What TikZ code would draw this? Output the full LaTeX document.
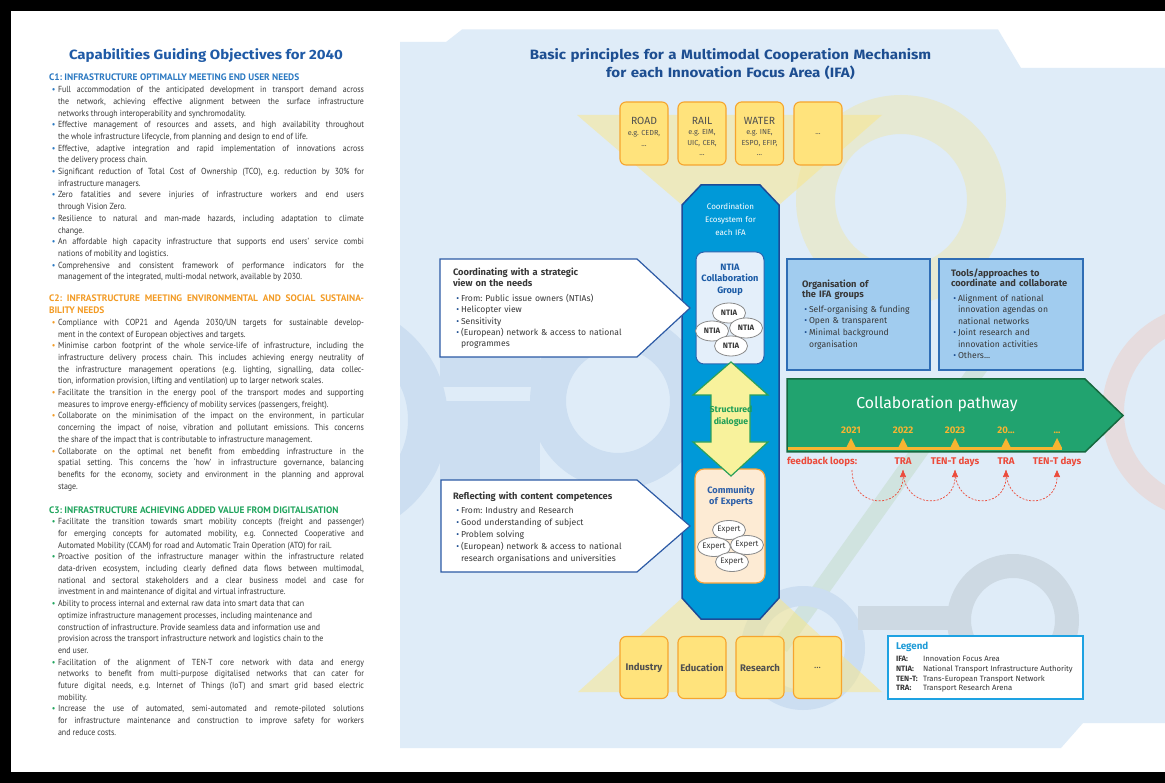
\documentclass[tikz,border=0pt]{standalone}
\usepackage{fontspec}
\setmainfont{Fira Sans}
\newfontfamily\lfont[FakeStretch=0.9]{PT Sans}
\newfontfamily\lheadfont{PT Sans}
\newfontfamily\wfont[FakeStretch=1.12]{Fira Sans}
\usepackage{graphicx}
\usetikzlibrary{shapes.geometric,arrows.meta}
\definecolor{panel}{HTML}{DFECF8}
\definecolor{titleblue}{HTML}{1D4E91}
\definecolor{ltitle}{HTML}{1F5AA6}
\definecolor{cone}{HTML}{2B79C2}
\definecolor{ctwo}{HTML}{F39B24}
\definecolor{cthree}{HTML}{1FA45C}
\definecolor{bodytxt}{HTML}{383838}
\definecolor{boxtxt}{HTML}{505050}
\definecolor{boxfill}{HTML}{FFE37C}
\definecolor{boxdraw}{HTML}{F6A52E}
\definecolor{colblue}{HTML}{0099D8}
\definecolor{colborder}{HTML}{1D4B97}
\definecolor{ntiafill}{HTML}{E4EFFA}
\definecolor{ntiadraw}{HTML}{2A64AE}
\definecolor{ntiatxt}{HTML}{1A5AA5}
\definecolor{ellborder}{HTML}{8A8A8A}
\definecolor{dlgfill}{HTML}{F8F29C}
\definecolor{dlgmid}{HTML}{FFFCDA}
\definecolor{dlgdraw}{HTML}{2BA05A}
\definecolor{dlgtxt}{HTML}{1E9E57}
\definecolor{commfill}{HTML}{FDEBD4}
\definecolor{commdraw}{HTML}{F6A23A}
\definecolor{commtxt}{HTML}{2D5FA8}
\definecolor{callborder}{HTML}{2C5AA5}
\definecolor{bulblue}{HTML}{1D4E91}
\definecolor{bbfill}{HTML}{A1CCEF}
\definecolor{bbdraw}{HTML}{2F6DB5}
\definecolor{pathfill}{HTML}{21A36F}
\definecolor{pathdraw}{HTML}{16693F}
\definecolor{amber}{HTML}{F8B431}
\definecolor{fbred}{HTML}{EC4B3B}
\definecolor{legborder}{HTML}{1EA2E2}
\definecolor{legtxt}{HTML}{1E9BD7}
\definecolor{conecol}{HTML}{FBE785}
\definecolor{decblue}{HTML}{CCDEF1}
\definecolor{decyellow}{HTML}{E6E9D3}
\definecolor{decpink}{HTML}{E6DCDE}
\definecolor{decgreen}{HTML}{D0E3DF}
\definecolor{decgrey}{HTML}{CDD9E3}
\newcommand\lbul[1]{\par\leftskip=9pt\noindent\llap{\textcolor{#1}{\textbullet}\hspace{2.5pt}}\ignorespaces}
\newcommand\lsechead[2]{{\lheadfont\bfseries\fontsize{9.4}{11.7}\selectfont\color{#1}#2\par}}
\newcommand\rfirst{\noindent\llap{\textcolor{bulblue}{\textbullet}\hspace{1.8pt}}\ignorespaces}
\newcommand\rbul{\par\rfirst}
\frenchspacing
\begin{document}
\begin{tikzpicture}[x=1pt,y=-1pt,
  every node/.style={inner sep=0pt, outer sep=0pt},
  lsec/.style={anchor=base west, text width=315pt, align=justify, font=\lfont\frenchspacing\fontsize{8.8}{11.7}\selectfont, text=bodytxt},
  ybox/.style={draw=boxdraw, fill=boxfill, line width=1.1pt, rounded corners=6pt, minimum width=48pt, minimum height=63pt},
  yhead/.style={anchor=base, font=\fontsize{10.4}{10}\selectfont, text=boxtxt},
  ysub/.style={anchor=base, text width=50pt, align=center, font=\fontsize{7.3}{10.6}\selectfont, text=boxtxt},
  bbox/.style={ybox, minimum height=62pt, font=\fontsize{9.6}{10}\selectfont\bfseries, text=boxtxt},
  ell/.style={ellipse, draw=ellborder, fill=white, line width=0.8pt, minimum width=33pt, minimum height=20pt, font=\bfseries\fontsize{7.8}{8}\selectfont, text=bodytxt},
  xell/.style={ell, minimum width=33pt, minimum height=19pt, font=\fontsize{8}{8}\selectfont},
  ctitle/.style={anchor=base, text width=80pt, align=center},
  call/.style={draw=callborder, fill=white, line width=1.2pt, line join=miter},
  chead/.style={anchor=base west, text width=190pt, align=left, font=\bfseries\fontsize{9.3}{10.6}\selectfont, text=bodytxt},
  cbul/.style={anchor=base west, text width=230pt, align=left, font=\fontsize{8.6}{11.4}\selectfont, text=bodytxt},
  bluebox/.style={draw=bbdraw, fill=bbfill, line width=1.2pt},
  year/.style={anchor=base, font=\bfseries\fontsize{9.6}{10}\selectfont, text=amber},
  fbl/.style={anchor=base, font=\bfseries\fontsize{9.7}{10}\selectfont, text=fbred},
  tri/.style={fill=amber},
  fbarc/.style={draw=fbred, line width=0.7pt, dash pattern=on 2pt off 1.5pt, -{Triangle[length=7pt,width=6pt]}},
  legt/.style={anchor=base west, font=\bfseries\fontsize{7.7}{8}\selectfont, text=bodytxt},
  legd/.style={anchor=base west, font=\fontsize{7.7}{8}\selectfont, text=bodytxt}
]
\useasboundingbox (0,0) rectangle (1165,783);
\fill[white] (0,0) rectangle (1165,783);
% frame
\fill[black] (0,0) rectangle (1165,11);
\fill[black] (0,0) rectangle (11,783);
\fill[black] (0,772) rectangle (1165,783);

% panel
\fill[panel] (400,42) -- (446,42) -- (462,29.5) -- (998,29.5) -- (1021,68) -- (1165,68) -- (1165,723) -- (1083,723) -- (1061,748) -- (400,748) -- cycle;
\begin{scope}
\clip (400,42) -- (446,42) -- (462,29.5) -- (998,29.5) -- (1021,68) -- (1165,68) -- (1165,723) -- (1083,723) -- (1061,748) -- (400,748) -- cycle;
\fill[decyellow, even odd rule] (901,200) circle (105pt) (901,200) circle (66pt);
\fill[decpink, even odd rule] (1210,412) circle (108pt) (1210,412) circle (86pt);
\draw[decgreen, line width=17pt] (780,647) -- (1000,338);
% left blue chain
\fill[decblue, even odd rule] (330,420) circle (118pt) (330,420) circle (78pt);
\fill[decblue] (440,340) rectangle (540,387);
\fill[decblue] (440,401) rectangle (540,500);
\fill[decblue, even odd rule] (618,401) circle (88pt) (618,401) circle (52pt);
% bottom chain
\fill[decblue, even odd rule] (803,648) circle (62pt) (803,648) circle (42pt);
\fill[decgrey] (858,606) rectangle (955,630);
\fill[decgrey, even odd rule] (1013,620) circle (66pt) (1013,620) circle (42pt);
\end{scope}

% left column
\node[anchor=base, font=\wfont\bfseries\fontsize{13.4}{14}\selectfont, text=ltitle] (ltitle) at (206,59.5) {Capabilities Guiding Objectives for 2040};

\node[lsec] (secone) at (49,81) {\lsechead{cone}{C1: INFRASTRUCTURE OPTIMALLY MEETING END USER NEEDS}%
\lbul{cone}Full accommodation of the anticipated development in transport demand across\linebreak the network, achieving effective alignment between the surface infrastructure\linebreak networks through interoperability and synchromodality.
\lbul{cone}Effective management of resources and assets, and high availability throughout\linebreak the whole infrastructure lifecycle, from planning and design to end of life.
\lbul{cone}Effective, adaptive integration and rapid implementation of innovations across\linebreak the delivery process chain.
\lbul{cone}Significant reduction of Total Cost of Ownership (TCO), e.g. reduction by 30\% for\linebreak infrastructure managers.
\lbul{cone}Zero fatalities and severe injuries of infrastructure workers and end users\linebreak through Vision Zero.
\lbul{cone}Resilience to natural and man-made hazards, including adaptation to climate\linebreak change.
\lbul{cone}An affordable high capacity infrastructure that supports end users’ service combi\linebreak nations of mobility and logistics.
\lbul{cone}Comprehensive and consistent framework of performance indicators for the\linebreak management of the integrated, multi-modal network, available by 2030.\par};

\node[lsec] (sectwo) at (49,302) {\lsechead{ctwo}{C2: INFRASTRUCTURE MEETING ENVIRONMENTAL AND SOCIAL SUSTAINA-\linebreak BILITY NEEDS}%
\lbul{ctwo}Compliance with COP21 and Agenda 2030/UN targets for sustainable develop-\linebreak ment in the context of European objectives and targets.
\lbul{ctwo}Minimise carbon footprint of the whole service-life of infrastructure, including the\linebreak infrastructure delivery process chain. This includes achieving energy neutrality of\linebreak the infrastructure management operations (e.g. lighting, signalling, data collec-\linebreak tion, information provision, lifting and ventilation) up to larger network scales.
\lbul{ctwo}Facilitate the transition in the energy pool of the transport modes and supporting\linebreak measures to improve energy-efficiency of mobility services (passengers, freight).
\lbul{ctwo}Collaborate on the minimisation of the impact on the environment, in particular\linebreak concerning the impact of noise, vibration and pollutant emissions. This concerns\linebreak the share of the impact that is contributable to infrastructure management.
\lbul{ctwo}Collaborate on the optimal net benefit from embedding infrastructure in the\linebreak spatial setting. This concerns the ‘how’ in infrastructure governance, balancing\linebreak benefits for the economy, society and environment in the planning and approval\linebreak stage.\par};

\node[lsec] (secthree) at (49,513) {\lsechead{cthree}{C3: INFRASTRUCTURE ACHIEVING ADDED VALUE FROM DIGITALISATION}%
\lbul{cthree}Facilitate the transition towards smart mobility concepts (freight and passenger)\linebreak for emerging concepts for automated mobility, e.g. Connected Cooperative and\linebreak Automated Mobility (CCAM) for road and Automatic Train Operation (ATO) for rail.
\lbul{cthree}Proactive position of the infrastructure manager within the infrastructure related\linebreak data-driven ecosystem, including clearly defined data flows between multimodal,\linebreak national and sectoral stakeholders and a clear business model and case for\linebreak investment in and maintenance of digital and virtual infrastructure.
\lbul{cthree}Ability to process internal and external raw data into smart data that can\newline optimize infrastructure management processes, including maintenance and\newline construction of infrastructure. Provide seamless data and information use and\newline provision across the transport infrastructure network and logistics chain to the\newline end user.
\lbul{cthree}Facilitation of the alignment of TEN-T core network with data and energy\linebreak networks to benefit from multi-purpose digitalised networks that can cater for\linebreak future digital needs, e.g. Internet of Things (IoT) and smart grid based electric\linebreak mobility.
\lbul{cthree}Increase the use of automated, semi-automated and remote-piloted solutions\linebreak for infrastructure maintenance and construction to improve safety for workers\linebreak and reduce costs.\par};

% right title
\node[anchor=base, text width=480pt, align=center, font=\wfont\bfseries\fontsize{13.5}{18}\selectfont, text=titleblue] (rtitle) at (730.5,59.5) {Basic principles for a Multimodal Cooperation Mechanism\\for each Innovation Focus Area (IFA)};

% cones
\fill[conecol, opacity=0.5] (577,115) -- (882,115) -- (779,205) -- (682,205) -- cycle;
\fill[conecol, opacity=0.5] (682,598) -- (779,598) -- (882,692) -- (578,692) -- cycle;

% top boxes
\node[ybox] (road) at (644,133.5) {};
\node[ybox] (rail) at (702,133.5) {};
\node[ybox] (water) at (759.5,133.5) {};
\node[ybox] (more) at (818,133.5) {};
\node[yhead] (roadT) at (644,124.8) {ROAD};
\node[ysub] (roadS) at (644,135.8) {e.g. CEDR,\\...};
\node[yhead] (railT) at (702,124.8) {RAIL};
\node[ysub] (railS) at (702,134.8) {e.g. EIM,\\UIC, CER,\\...};
\node[yhead] (waterT) at (759.5,124.8) {WATER};
\node[ysub] (waterS) at (759.5,134.8) {e.g. INE,\\ESPO, EFIP,\\...};
\node[ysub] (moreS) at (818,134.5) {...};

% column
\draw[colborder, fill=colblue, line width=1.5pt, line join=miter] (701,185) -- (760,185) -- (779,205) -- (779,598) -- (760,619) -- (701,619) -- (682,598) -- (682,205) -- cycle;
\node[ctitle, font=\fontsize{8}{12.8}\selectfont, text=white] (coordT) at (730.5,209.8) {Coordination\\Ecosystem for\\each IFA};

% NTIA group
\node[draw=ntiadraw, fill=ntiafill, line width=1pt, rounded corners=8pt, minimum width=68pt, minimum height=112pt] (ntiabox) at (730,308) {};
\node[ctitle, font=\bfseries\fontsize{9.2}{11.5}\selectfont, text=ntiatxt] (ntiaT) at (730,270.3) {NTIA\\Collaboration\\Group};
\node[ell] (na) at (729,313) {\makebox[0pt]{NTIA}};
\node[ell] (nb) at (712,331) {\makebox[0pt]{NTIA}};
\node[ell] (nc) at (746,328) {\makebox[0pt]{NTIA}};
\node[ell] (nd) at (731,346) {\makebox[0pt]{NTIA}};

% community of experts
\node[draw=commdraw, fill=commfill, line width=1.2pt, rounded corners=9pt, minimum width=70pt, minimum height=114pt] (commbox) at (730,526) {};
\node[ctitle, font=\bfseries\fontsize{9.2}{11.3}\selectfont, text=commtxt] (commT) at (731,493.3) {Community\\of Experts};
\node[xell] (ea) at (729,530) {\makebox[0pt]{Expert}};
\node[xell] (eb) at (714,547) {\makebox[0pt]{Expert}};
\node[xell] (ec) at (747,545) {\makebox[0pt]{Expert}};
\node[xell] (ed) at (732,562) {\makebox[0pt]{Expert}};

% structured dialogue
\shadedraw[draw=dlgdraw, top color=dlgfill, middle color=dlgmid, bottom color=dlgfill, line width=1.2pt, line join=miter] (731,362) -- (768,395) -- (750,395) -- (750,442) -- (768,442) -- (731,476) -- (693,442) -- (711,442) -- (711,395) -- (693,395) -- cycle;
\node[ctitle, font=\bfseries\fontsize{8.7}{12.7}\selectfont, text=dlgtxt] (dlgT) at (731,412.3) {Structured\\dialogue};

% callouts
\draw[call] (440,259) -- (637,259) -- (690,308) -- (637,357) -- (440,357) -- cycle;
\node[chead] (caH) at (453,276) {Coordinating with a strategic\\view on the needs};
\node[cbul] (caB) at (461,301.3) {\rfirst From: Public issue owners (NTIAs)\rbul Helicopter view\rbul Sensitivity\rbul (European) network \& access to national\newline programmes\par};

\draw[call] (441,480) -- (637,480) -- (690,526) -- (637,572) -- (441,572) -- cycle;
\node[chead] (cbH) at (453,499.3) {Reflecting with content competences};
\node[cbul, font=\fontsize{8.6}{12}\selectfont] (cbB) at (461,513.3) {\rfirst From: Industry and Research\rbul Good understanding of subject\rbul Problem solving\rbul (European) network \& access to national\newline research organisations and universities\par};

% blue boxes
\draw[bluebox] (787,259) rectangle (930,370);
\node[chead] (baH) at (802,287.3) {Organisation of\\the IFA groups};
\node[cbul, font=\fontsize{8.6}{11.7}\selectfont] (baB) at (809,312.3) {\rfirst Self-organising \& funding\rbul Open \& transparent\rbul Minimal background\newline organisation\par};
\draw[bluebox] (939,259) rectangle (1083,370);
\node[chead] (bbH) at (951,276.3) {Tools/approaches to\\coordinate and collaborate};
\node[cbul, font=\fontsize{8.6}{11.5}\selectfont] (bbB) at (958,301.3) {\rfirst Alignment of national\newline innovation agendas on\newline national networks\rbul Joint research and\newline innovation activities\rbul Others...\par};

% collaboration pathway
\draw[pathdraw, fill=pathfill, line width=1.5pt, line join=miter] (787,379) -- (1085,379) -- (1123,415.5) -- (1085,452) -- (787,452) -- cycle;
\node[anchor=base, font=\fontsize{15.8}{16}\selectfont, text=white] (cpT) at (937,408.8) {Collaboration pathway};
\draw[amber, line width=3pt] (787.8,448.3) -- (1062,448.3);
\node[year] (ya) at (851,434) {2021};
\node[year] (yb) at (903,434) {2022};
\node[year] (yc) at (955,434) {2023};
\node[year] (yd) at (1006,434) {20...};
\node[year] (ye) at (1057,434) {...};
\fill[tri] (851,438) -- (856,448) -- (846,448) -- cycle;
\fill[tri] (903,438) -- (908,448) -- (898,448) -- cycle;
\fill[tri] (955,438) -- (960,448) -- (950,448) -- cycle;
\fill[tri] (1006,438) -- (1011,448) -- (1001,448) -- cycle;
\fill[tri] (1057,438) -- (1062,448) -- (1052,448) -- cycle;

\node[fbl, anchor=base west] (fbL) at (787,464.8) {feedback loops:};
\node[fbl] (fa) at (903,464.8) {TRA};
\node[fbl] (fb) at (955,464.8) {TEN-T days};
\node[fbl] (fc) at (1006,464.8) {TRA};
\node[fbl] (fd) at (1057,464.8) {TEN-T days};
\coordinate (p0) at (852,470);
\coordinate (p1) at (903,470);
\coordinate (p2) at (955,470);
\coordinate (p3) at (1006,470);
\coordinate (p4) at (1057,470);
\draw[fbarc] (p0) .. controls +(0,40) and +(0,40) .. (p1);
\draw[fbarc] (p1) .. controls +(0,40) and +(0,40) .. (p2);
\draw[fbarc] (p2) .. controls +(0,40) and +(0,40) .. (p3);
\draw[fbarc] (p3) .. controls +(0,40) and +(0,40) .. (p4);

% bottom boxes
\node[bbox] (ind) at (644,667.5) {Industry};
\node[bbox] (edu) at (702,667.5) {Education};
\node[bbox] (res) at (760,667.5) {Research};
\node[bbox, font=\fontsize{9.6}{10}\selectfont] (more2) at (817.5,667.5) {...};

% legend
\node[draw=legborder, fill=white, line width=1.5pt, minimum width=195pt, minimum height=63pt] (legend) at (985.5,667.5) {};
\node[anchor=base west, font=\bfseries\fontsize{9.8}{10}\selectfont, text=legtxt] (legT) at (896,649.8) {Legend};
\node[legt] (l1) at (896,661.8) {IFA:};
\node[legd] (l1d) at (923,661.8) {Innovation Focus Area};
\node[legt] (l2) at (896,671.5) {NTIA:};
\node[legd] (l2d) at (923,671.5) {National Transport Infrastructure Authority};
\node[legt] (l3) at (896,681.2) {TEN-T:};
\node[legd] (l3d) at (923,681.2) {Trans-European Transport Network};
\node[legt] (l4) at (896,690.9) {TRA:};
\node[legd] (l4d) at (923,690.9) {Transport Research Arena};
\end{tikzpicture}
\end{document}
